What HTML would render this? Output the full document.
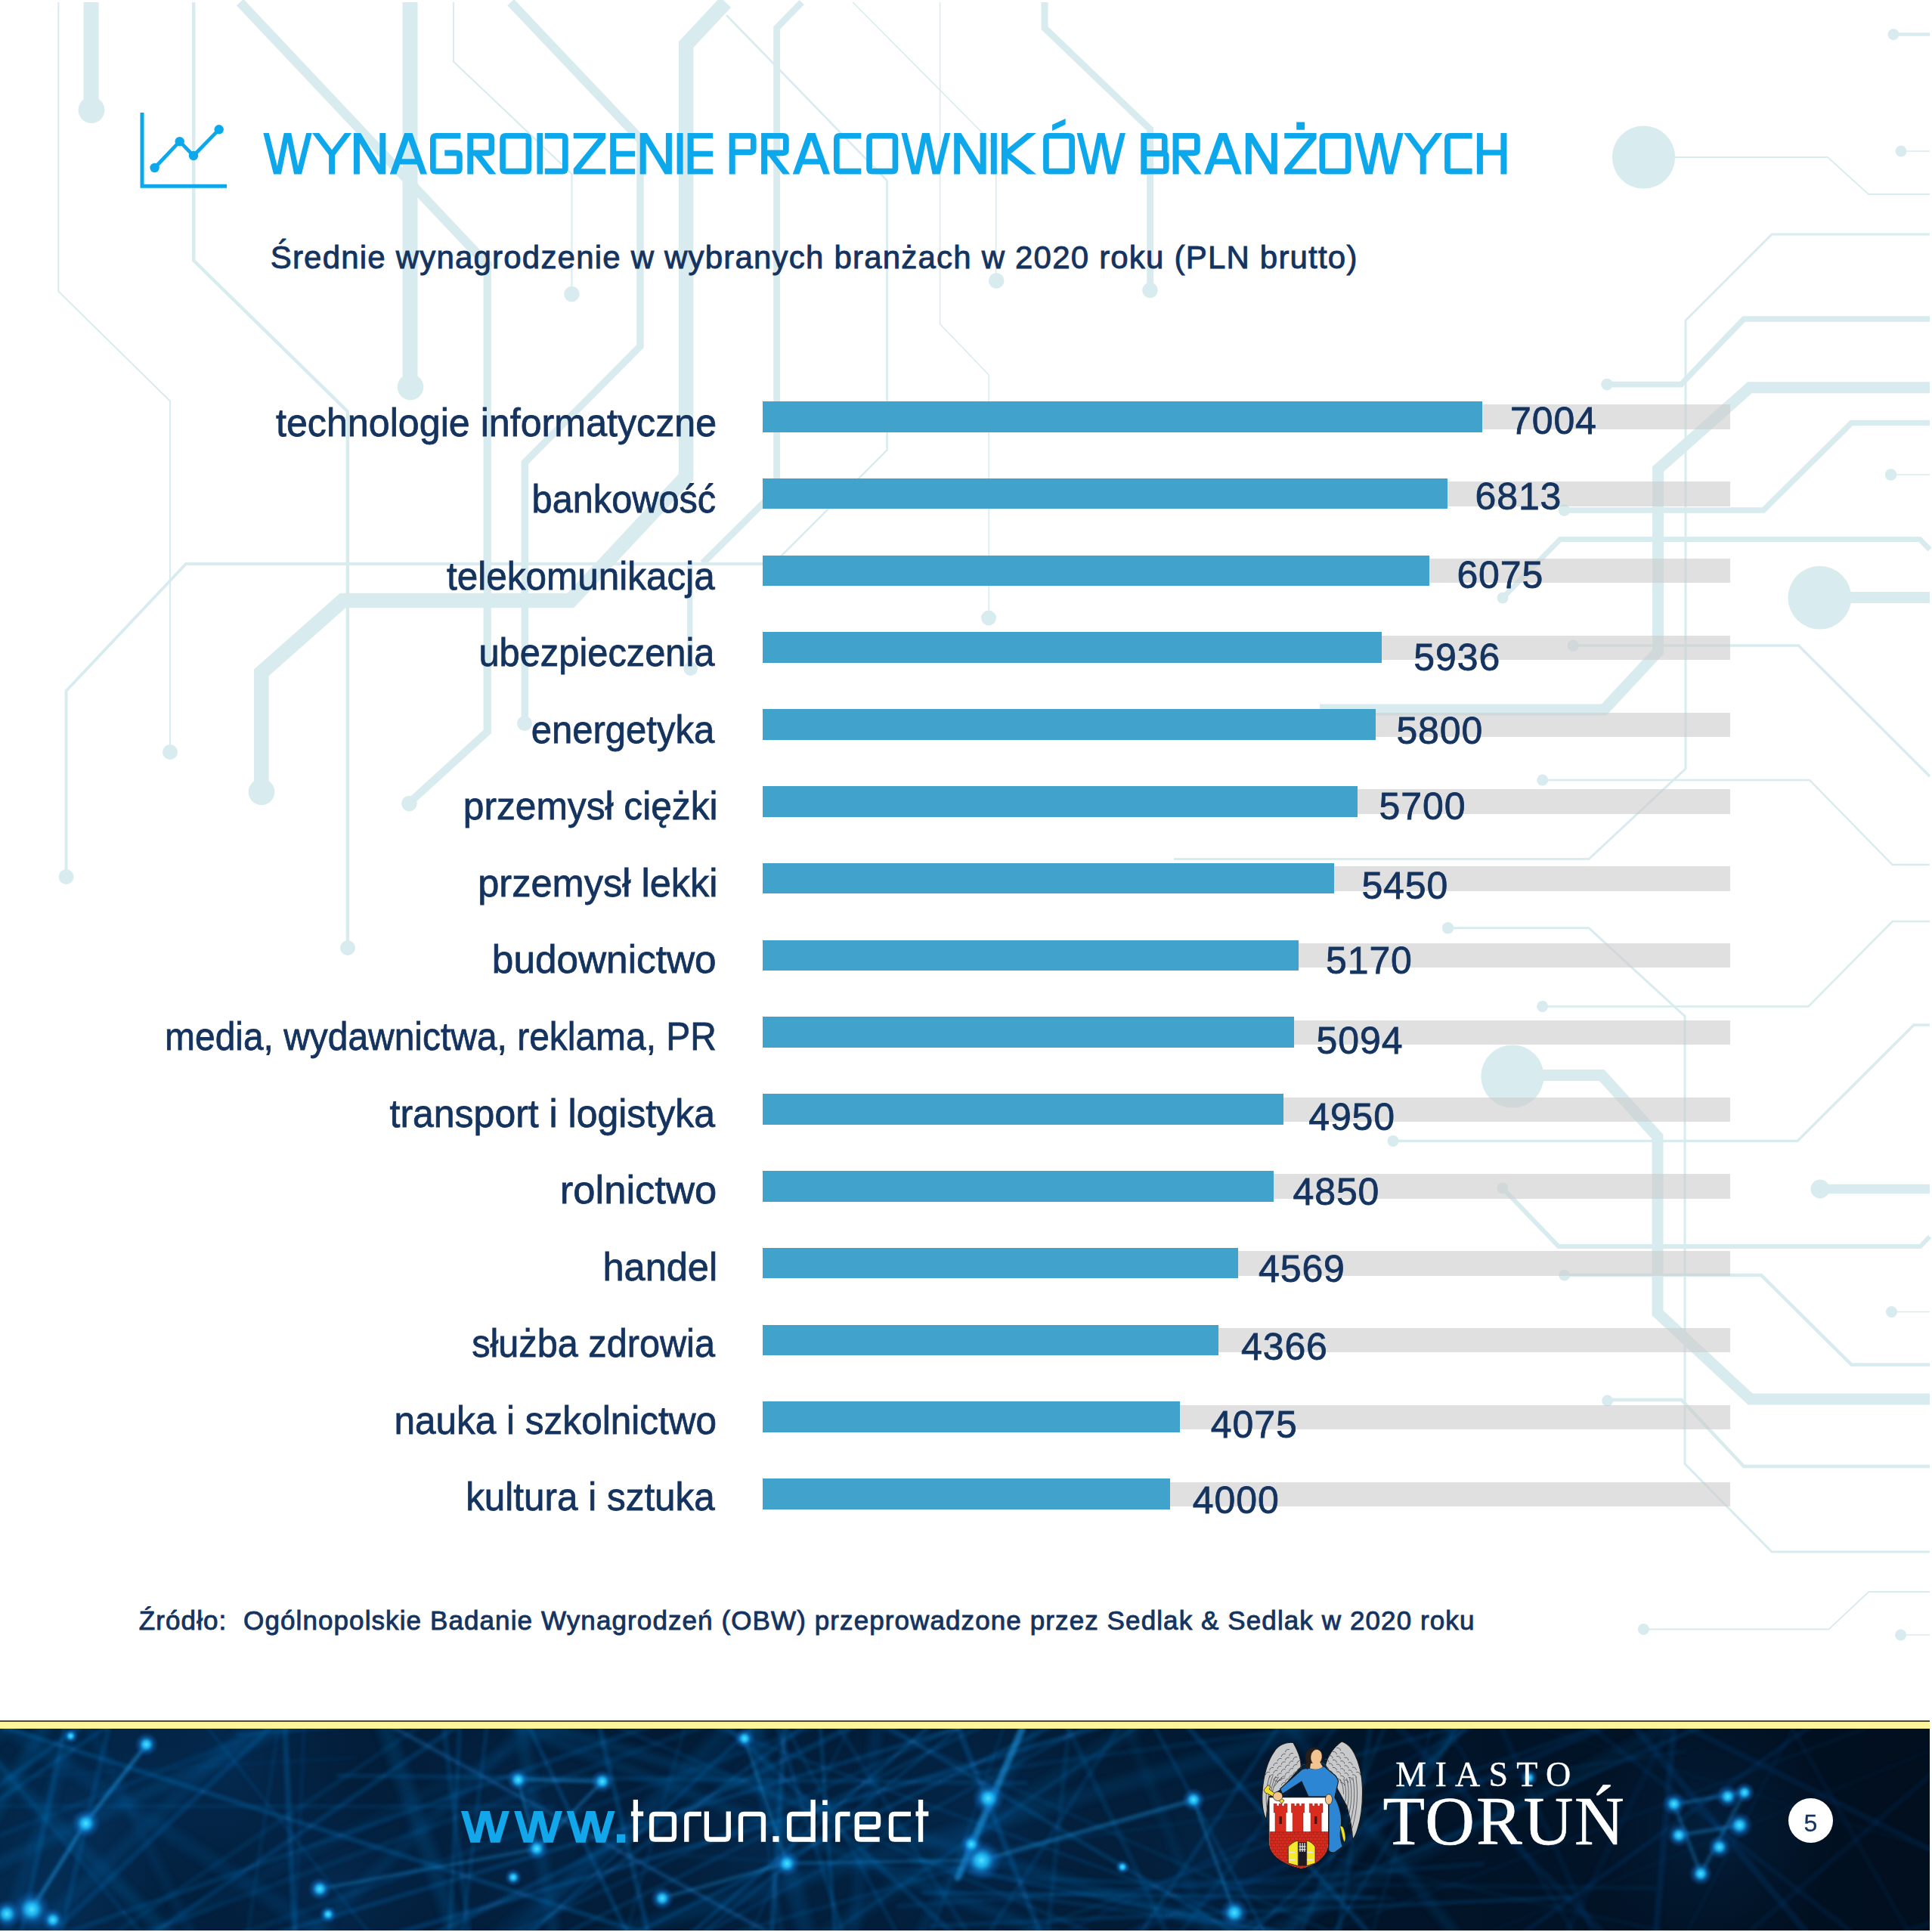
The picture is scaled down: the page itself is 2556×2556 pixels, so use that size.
<!DOCTYPE html>
<html lang="pl"><head><meta charset="utf-8"><title>Wynagrodzenie pracowników branżowych</title>
<style>
html,body{margin:0;padding:0;background:#fff;}
body{width:2556px;height:2556px;position:relative;overflow:hidden;font-family:"Liberation Sans",sans-serif;}
.abs{position:absolute;}
.t{position:absolute;white-space:pre;line-height:1;color:#14335F;}
.s{-webkit-text-stroke:0.8px #14335F;}
.s2{-webkit-text-stroke:0.9px #14335F;}
.lab{font-size:52px;transform-origin:100% 50%;text-align:right;}
.num{font-size:50px;transform-origin:0 50%;}
.bar{position:absolute;left:1009px;height:40.7px;background:#41A2CB;}
.gbar{position:absolute;left:1009px;width:1280px;height:32.5px;background:rgba(205,205,205,0.62);}
svg{position:absolute;left:0;top:0;}
</style></head><body>
<svg width="2556" height="2280" viewBox="0 0 2556 2280" fill="none" stroke="#D8EBEF" stroke-linejoin="miter" stroke-miterlimit="10">
<path d="M77.3,3 V385.4 L225.1,530.7 V989" stroke-width="2"/>
<path d="M120.6,3 V145" stroke-width="20"/>
<path d="M256.2,3 V344.7 L459.9,544.4 V1247" stroke-width="4.4"/>
<path d="M317.5,3 L644.7,350 V352" stroke-width="12.6"/>
<path d="M644.7,345 V968 L542.7,1061" stroke-width="10.3"/>
<path d="M542.5,3 V511" stroke-width="20"/>
<path d="M600,3 V81.5 L756.4,230 V387" stroke-width="2"/>
<path d="M675.6,3 L847,184 V186" stroke-width="12"/>
<path d="M847,180 V458 L694.3,612 V951" stroke-width="9.4"/>
<path d="M960,3 L907.6,59 V631 L754.8,794.5 H453.6 L345.8,890 V1042" stroke-width="19.6"/>
<path d="M1060.7,3 L1027.6,37 V648 L929.7,745" stroke-width="8.8"/>
<path d="M1026,746 H246 L87.6,914 V1154" stroke-width="3.8"/>
<path d="M912.8,746 V880" stroke-width="7.3"/>
<path d="M961,20 L1173.6,239 V595.3 L1024,745" stroke-width="2.6"/>
<path d="M1243.6,3 V428.7 L1308.2,496 V810" stroke-width="1.6"/>
<path d="M1128.3,3 L1317.7,194 V365" stroke-width="1.6"/>
<path d="M1382,3 V37 L1521.7,171 V376" stroke-width="9"/>
<path d="M2216,208 H2418 L2472,257 H2553" stroke-width="1.8"/>
<path d="M2505,45.5 H2553" stroke-width="4.5"/>
<path d="M2515,200 H2553" stroke-width="1.5"/>
<path d="M2553,310 H2344 L2230,424 V1017 L2102,1136.6 H1553" stroke-width="3"/>
<path d="M2126,508.6 H2224 L2307,422 H2553" stroke-width="7.6"/>
<path d="M2553,512.8 H2314.8 L2193.6,620.7 V862 L2122,939 H1746" stroke-width="15"/>
<path d="M2553,559.6 H2449.4 L2333,675 H2069.5" stroke-width="7.5"/>
<path d="M2553,727 L2540,713.5 H2064 L1988,791" stroke-width="7"/>
<path d="M2440,790.4 H2553" stroke-width="15"/>
<path d="M2501.6,628 H2553" stroke-width="1.5"/>
<path d="M2081.4,854 H2379.5 L2553,1027" stroke-width="3.4"/>
<path d="M2040.7,1032 H2394 L2503.6,1144 H2553" stroke-width="2.5"/>
<path d="M1915.5,1227.7 H2102 L2229,1344.5 V1936.6 L2344,2053 H2553" stroke-width="3"/>
<path d="M2040.7,1331.4 H2392.6 L2503.6,1219 H2553" stroke-width="2.5"/>
<path d="M2035,1422.5 H2119 L2193,1504 V1737 L2315.7,1851 H2553" stroke-width="15"/>
<path d="M1843,1509.6 H2378 L2532,1356 H2553" stroke-width="3.5"/>
<path d="M2408,1573 H2553" stroke-width="12.5"/>
<path d="M1988,1572 L2062,1649 H2540.6 L2553,1636" stroke-width="6"/>
<path d="M2069.7,1687 H2330 L2449.5,1805.6 H2553" stroke-width="4.5"/>
<path d="M2502.5,1735.6 H2553" stroke-width="1.5"/>
<path d="M2126.7,1852 H2224.6 L2307,1940 H2553" stroke-width="4.5"/>
<path d="M2174.4,2155.5 H2419.5 L2472.2,2106 H2553" stroke-width="1.8"/>
<path d="M2514.6,2163 H2553" stroke-width="1.5"/>
<g fill="#D8EBEF" stroke="none">
<circle cx="225" cy="995" r="10"/>
<circle cx="121" cy="145.6" r="17.4"/>
<circle cx="460" cy="1254" r="10"/>
<circle cx="541.4" cy="1063" r="10.3"/>
<circle cx="543" cy="512" r="17.3"/>
<circle cx="756.4" cy="389" r="10.3"/>
<circle cx="694" cy="957" r="10"/>
<circle cx="346" cy="1047.7" r="17.4"/>
<circle cx="87.6" cy="1160" r="10"/>
<circle cx="913.7" cy="884.7" r="9.3"/>
<circle cx="1308" cy="817.5" r="10"/>
<circle cx="1318.2" cy="371.4" r="10.3"/>
<circle cx="1521.5" cy="384" r="10.3"/>
<circle cx="2174.5" cy="208" r="41.6"/>
<circle cx="2505" cy="45.5" r="7.5"/>
<circle cx="2515" cy="200" r="7.5"/>
<circle cx="2126" cy="508.6" r="7.8"/>
<circle cx="2069.5" cy="675" r="7.8"/>
<circle cx="1988" cy="791" r="7.5"/>
<circle cx="2407.4" cy="790.7" r="41.9"/>
<circle cx="2501.6" cy="628" r="7.8"/>
<circle cx="2081.4" cy="854" r="7.8"/>
<circle cx="2040.7" cy="1032" r="7.5"/>
<circle cx="1915.5" cy="1227.7" r="7.7"/>
<circle cx="2040.7" cy="1331.4" r="7.5"/>
<circle cx="2000.9" cy="1424" r="41.6"/>
<circle cx="1843" cy="1509.6" r="7.5"/>
<circle cx="2408" cy="1573" r="12.5"/>
<circle cx="1988" cy="1572" r="7.5"/>
<circle cx="2069.7" cy="1687" r="7.5"/>
<circle cx="2502.5" cy="1735.6" r="7.5"/>
<circle cx="2126.7" cy="1853" r="7.5"/>
<circle cx="2174.4" cy="2155.5" r="7.5"/>
<circle cx="2514.6" cy="2163" r="7.5"/>
</g></svg>
<div class="gbar" style="top:535.3px"></div>
<div class="bar" style="top:531.0px;width:952.0px"></div>
<div class="gbar" style="top:637.1px"></div>
<div class="bar" style="top:632.8px;width:906.0px"></div>
<div class="gbar" style="top:738.9px"></div>
<div class="bar" style="top:734.6px;width:882.0px"></div>
<div class="gbar" style="top:840.7px"></div>
<div class="bar" style="top:836.4px;width:819.0px"></div>
<div class="gbar" style="top:942.5px"></div>
<div class="bar" style="top:938.2px;width:811.0px"></div>
<div class="gbar" style="top:1044.3px"></div>
<div class="bar" style="top:1040.0px;width:787.0px"></div>
<div class="gbar" style="top:1146.1px"></div>
<div class="bar" style="top:1141.8px;width:755.5px"></div>
<div class="gbar" style="top:1247.9px"></div>
<div class="bar" style="top:1243.6px;width:709.2px"></div>
<div class="gbar" style="top:1349.7px"></div>
<div class="bar" style="top:1345.4px;width:703.0px"></div>
<div class="gbar" style="top:1451.5px"></div>
<div class="bar" style="top:1447.2px;width:689.0px"></div>
<div class="gbar" style="top:1553.3px"></div>
<div class="bar" style="top:1549.0px;width:675.6px"></div>
<div class="gbar" style="top:1655.1px"></div>
<div class="bar" style="top:1650.8px;width:628.8px"></div>
<div class="gbar" style="top:1756.9px"></div>
<div class="bar" style="top:1752.6px;width:603.0px"></div>
<div class="gbar" style="top:1858.7px"></div>
<div class="bar" style="top:1854.4px;width:551.8px"></div>
<div class="gbar" style="top:1960.5px"></div>
<div class="bar" style="top:1956.2px;width:539.1px"></div>
<div class="t s lab" style="right:1608.2px;top:532.7px;transform:scaleX(0.9653)">technologie informatyczne</div>
<div class="t s lab" style="right:1609.2px;top:634.2px;transform:scaleX(0.9363)">bankowość</div>
<div class="t s lab" style="right:1610.4px;top:735.7px;transform:scaleX(0.9517)">telekomunikacja</div>
<div class="t s lab" style="right:1610.8px;top:837.3px;transform:scaleX(0.9385)">ubezpieczenia</div>
<div class="t s lab" style="right:1611.0px;top:938.8px;transform:scaleX(0.9430)">energetyka</div>
<div class="t s lab" style="right:1607.0px;top:1040.3px;transform:scaleX(0.9552)">przemysł ciężki</div>
<div class="t s lab" style="right:1606.9px;top:1141.9px;transform:scaleX(0.9716)">przemysł lekki</div>
<div class="t s lab" style="right:1608.7px;top:1243.4px;transform:scaleX(0.9872)">budownictwo</div>
<div class="t s lab" style="right:1608.6px;top:1344.9px;transform:scaleX(0.9216)">media, wydawnictwa, reklama, PR</div>
<div class="t s lab" style="right:1610.3px;top:1446.5px;transform:scaleX(0.9609)">transport i logistyka</div>
<div class="t s lab" style="right:1608.1px;top:1548.0px;transform:scaleX(1.0110)">rolnictwo</div>
<div class="t s lab" style="right:1607.2px;top:1649.5px;transform:scaleX(0.9713)">handel</div>
<div class="t s lab" style="right:1610.3px;top:1751.0px;transform:scaleX(0.9356)">służba zdrowia</div>
<div class="t s lab" style="right:1608.4px;top:1852.6px;transform:scaleX(0.9521)">nauka i szkolnictwo</div>
<div class="t s lab" style="right:1610.5px;top:1954.1px;transform:scaleX(0.9506)">kultura i sztuka</div>
<div class="t s num" style="left:1998.0px;top:531.7px;letter-spacing:0.9px">7004</div>
<div class="t s num" style="left:1951.5px;top:632.2px;letter-spacing:0.9px">6813</div>
<div class="t s num" style="left:1927.4px;top:735.7px;letter-spacing:0.9px">6075</div>
<div class="t s num" style="left:1870.3px;top:844.7px;letter-spacing:0.9px">5936</div>
<div class="t s num" style="left:1847.4px;top:942.0px;letter-spacing:0.9px">5800</div>
<div class="t s num" style="left:1824.6px;top:1042.0px;letter-spacing:0.9px">5700</div>
<div class="t s num" style="left:1801.4px;top:1147.2px;letter-spacing:0.9px">5450</div>
<div class="t s num" style="left:1754.0px;top:1245.5px;letter-spacing:0.9px">5170</div>
<div class="t s num" style="left:1741.6px;top:1351.7px;letter-spacing:0.9px">5094</div>
<div class="t s num" style="left:1731.2px;top:1453.0px;letter-spacing:0.9px">4950</div>
<div class="t s num" style="left:1710.5px;top:1552.1px;letter-spacing:0.9px">4850</div>
<div class="t s num" style="left:1665.0px;top:1653.5px;letter-spacing:0.9px">4569</div>
<div class="t s num" style="left:1642.0px;top:1757.0px;letter-spacing:0.9px">4366</div>
<div class="t s num" style="left:1601.8px;top:1859.7px;letter-spacing:0.9px">4075</div>
<div class="t s num" style="left:1577.8px;top:1959.7px;letter-spacing:0.9px">4000</div>
<svg width="340" height="300" viewBox="0 0 340 300" fill="none" stroke="#0DA8EB"><path d="M188,149 V246.3 H300" stroke-width="5"/><path d="M204.6,222 L237.7,187.2 L256,206 L289.7,171.3" stroke-width="4.8"/><g fill="#0DA8EB" stroke="none"><circle cx="204.6" cy="222" r="6.2"/><circle cx="237.7" cy="187.2" r="6.2"/><circle cx="256" cy="206" r="6.2"/><circle cx="289.7" cy="171.3" r="6.2"/></g></svg>
<div class="t" style="left:350.0px;top:165.1px;font-size:77px;font-weight:bold;color:transparent;transform-origin:0 50%;transform:scaleX(0.8598)">WYNAGRODZENIE PRACOWNIKÓW BRANŻOWYCH</div>
<svg width="2556" height="300" viewBox="0 0 2556 300" fill="none"><clipPath id="tc"><rect x="300" y="175.9" width="1800" height="54.599999999999994"/></clipPath><path fill="#0DA8EB" d="M435.10,203.40 L443.10,203.40 L443.10,230.50 L435.10,230.50 Z M467.90,175.90 L475.90,175.90 L475.90,230.50 L467.90,230.50 Z M502.30,175.90 L510.30,175.90 L510.30,230.50 L502.30,230.50 Z M467.90,175.90 L477.20,175.90 L510.30,230.50 L501.00,230.50 Z M515.70,230.50 L535.15,175.90 L545.55,175.90 L565.00,230.50 L556.30,230.50 L540.35,185.73 L524.40,230.50 Z M528.03,217.50 L530.60,210.30 L550.10,210.30 L552.67,217.50 Z M618.30,175.90 L626.30,175.90 L626.30,230.50 L618.30,230.50 Z M710.40,175.90 L718.20,175.90 L718.20,230.50 L710.40,230.50 Z M758.70,175.90 L801.10,175.90 L801.10,183.20 L758.70,183.20 Z M758.70,223.20 L801.10,223.20 L801.10,230.50 L758.70,230.50 Z M791.30,183.20 L801.10,183.20 L768.50,223.20 L758.70,223.20 Z M807.20,175.90 L815.20,175.90 L815.20,230.50 L807.20,230.50 Z M807.20,175.90 L840.20,175.90 L840.20,183.20 L807.20,183.20 Z M807.20,199.85 L840.20,199.85 L840.20,207.15 L807.20,207.15 Z M807.20,223.20 L840.20,223.20 L840.20,230.50 L807.20,230.50 Z M846.70,175.90 L854.70,175.90 L854.70,230.50 L846.70,230.50 Z M880.90,175.90 L888.90,175.90 L888.90,230.50 L880.90,230.50 Z M846.70,175.90 L856.00,175.90 L888.90,230.50 L879.60,230.50 Z M895.60,175.90 L903.60,175.90 L903.60,230.50 L895.60,230.50 Z M909.60,175.90 L917.60,175.90 L917.60,230.50 L909.60,230.50 Z M909.60,175.90 L943.20,175.90 L943.20,183.20 L909.60,183.20 Z M909.60,199.85 L943.20,199.85 L943.20,207.15 L909.60,207.15 Z M909.60,223.20 L943.20,223.20 L943.20,230.50 L909.60,230.50 Z M964.70,175.90 L972.70,175.90 L972.70,230.50 L964.70,230.50 Z M1007.10,175.90 L1015.10,175.90 L1015.10,230.50 L1007.10,230.50 Z M1048.70,230.50 L1068.15,175.90 L1078.55,175.90 L1098.00,230.50 L1089.30,230.50 L1073.35,185.73 L1057.40,230.50 Z M1061.03,217.50 L1063.60,210.30 L1083.10,210.30 L1085.67,217.50 Z M1262.20,175.90 L1270.20,175.90 L1270.20,230.50 L1262.20,230.50 Z M1296.60,175.90 L1304.60,175.90 L1304.60,230.50 L1296.60,230.50 Z M1262.20,175.90 L1271.50,175.90 L1304.60,230.50 L1295.30,230.50 Z M1310.80,175.90 L1318.80,175.90 L1318.80,230.50 L1310.80,230.50 Z M1324.90,175.90 L1332.90,175.90 L1332.90,230.50 L1324.90,230.50 Z M1392.10,165.10 L1392.10,172.90 L1409.60,164.80 L1409.60,157.00 Z M1509.30,175.90 L1517.30,175.90 L1517.30,230.50 L1509.30,230.50 Z M1551.60,175.90 L1559.60,175.90 L1559.60,230.50 L1551.60,230.50 Z M1593.10,230.50 L1612.75,175.90 L1623.15,175.90 L1642.80,230.50 L1634.10,230.50 L1617.95,185.63 L1601.80,230.50 Z M1605.48,217.50 L1608.07,210.30 L1627.83,210.30 L1630.42,217.50 Z M1647.80,175.90 L1655.80,175.90 L1655.80,230.50 L1647.80,230.50 Z M1681.80,175.90 L1689.80,175.90 L1689.80,230.50 L1681.80,230.50 Z M1647.80,175.90 L1657.10,175.90 L1689.80,230.50 L1680.50,230.50 Z M1699.20,175.90 L1741.60,175.90 L1741.60,183.20 L1699.20,183.20 Z M1699.20,223.20 L1741.60,223.20 L1741.60,230.50 L1699.20,230.50 Z M1731.80,183.20 L1741.60,183.20 L1709.00,223.20 L1699.20,223.20 Z M1715.20,161.50 L1726.10,161.50 L1726.10,171.70 L1715.20,171.70 Z M1878.70,203.40 L1886.70,203.40 L1886.70,230.50 L1878.70,230.50 Z M1953.90,175.90 L1961.90,175.90 L1961.90,230.50 L1953.90,230.50 Z M1985.40,175.90 L1993.40,175.90 L1993.40,230.50 L1985.40,230.50 Z M1953.90,198.15 L1993.40,198.15 L1993.40,205.45 L1953.90,205.45 Z"/><g stroke="#0DA8EB" stroke-linejoin="round"><path d="M609.30,179.75 L576.85,179.75 Q572.85,179.75 572.85,183.75 L572.85,222.65 Q572.85,226.65 576.85,226.65 L603.95,226.65 Q607.95,226.65 607.95,222.65 L607.95,206.30 Q607.95,202.30 603.95,202.30 L588.30,202.30" stroke-width="7.7"/><path d="M622.15,179.75 L646.35,179.75 Q650.35,179.75 650.35,183.75 L650.35,198.30 Q650.35,202.30 646.35,202.30 L622.15,202.30" stroke-width="7.7"/><path d="M665.05,203.20 L665.05,183.75 Q665.05,179.75 669.05,179.75 L695.35,179.75 Q699.35,179.75 699.35,183.75 L699.35,222.65 Q699.35,226.65 695.35,226.65 L669.05,226.65 Q665.05,226.65 665.05,222.65 Z" stroke-width="7.7"/><path d="M720.80,179.75 L743.85,179.75 Q747.85,179.75 747.85,183.75 L747.85,222.65 Q747.85,226.65 743.85,226.65 L720.80,226.65" stroke-width="7.7"/><path d="M968.55,179.75 L992.75,179.75 Q996.75,179.75 996.75,183.75 L996.75,197.30 Q996.75,201.30 992.75,201.30 L968.55,201.30" stroke-width="7.7"/><path d="M1010.95,179.75 L1035.85,179.75 Q1039.85,179.75 1039.85,183.75 L1039.85,198.30 Q1039.85,202.30 1035.85,202.30 L1010.95,202.30" stroke-width="7.7"/><path d="M1139.30,179.75 L1110.85,179.75 Q1106.85,179.75 1106.85,183.75 L1106.85,222.65 Q1106.85,226.65 1110.85,226.65 L1139.30,226.65" stroke-width="7.7"/><path d="M1150.05,203.20 L1150.05,183.75 Q1150.05,179.75 1154.05,179.75 L1180.45,179.75 Q1184.45,179.75 1184.45,183.75 L1184.45,222.65 Q1184.45,226.65 1180.45,226.65 L1154.05,226.65 Q1150.05,226.65 1150.05,222.65 Z" stroke-width="7.7"/><path d="M1383.95,203.20 L1383.95,183.75 Q1383.95,179.75 1387.95,179.75 L1414.15,179.75 Q1418.15,179.75 1418.15,183.75 L1418.15,222.65 Q1418.15,226.65 1414.15,226.65 L1387.95,226.65 Q1383.95,226.65 1383.95,222.65 Z" stroke-width="7.7"/><path d="M1513.15,179.75 L1536.75,179.75 Q1540.75,179.75 1540.75,183.75 L1540.75,199.00 Q1540.75,203.00 1536.75,203.00 L1513.15,203.00" stroke-width="7.7"/><path d="M1513.15,203.00 L1538.75,203.00 Q1542.75,203.00 1542.75,207.00 L1542.75,222.65 Q1542.75,226.65 1538.75,226.65 L1513.15,226.65" stroke-width="7.7"/><path d="M1555.45,179.75 L1579.85,179.75 Q1583.85,179.75 1583.85,183.75 L1583.85,198.30 Q1583.85,202.30 1579.85,202.30 L1555.45,202.30" stroke-width="7.7"/><path d="M1749.35,203.20 L1749.35,183.75 Q1749.35,179.75 1753.35,179.75 L1779.55,179.75 Q1783.55,179.75 1783.55,183.75 L1783.55,222.65 Q1783.55,226.65 1779.55,226.65 L1753.35,226.65 Q1749.35,226.65 1749.35,222.65 Z" stroke-width="7.7"/><path d="M1947.60,179.75 L1918.95,179.75 Q1914.95,179.75 1914.95,183.75 L1914.95,222.65 Q1914.95,226.65 1918.95,226.65 L1947.60,226.65" stroke-width="7.7"/></g><g clip-path="url(#tc)" stroke="#0DA8EB" stroke-linejoin="miter" stroke-miterlimit="6"><path d="M349.96,167.71 L367.10,236.00 L380.50,170.40 L393.90,236.00 L411.03,167.71" stroke-width="7.2"/><path d="M415.30,172.90 L439.10,204.40 L462.90,172.90" stroke-width="7.4"/><path d="M630.80,203.40 L653.30,232.50" stroke-width="7.6"/><path d="M1019.60,203.40 L1042.10,232.50" stroke-width="7.6"/><path d="M1194.06,167.71 L1211.20,236.00 L1224.85,170.40 L1238.50,236.00 L1255.63,167.71" stroke-width="7.2"/><path d="M1368.60,172.90 L1331.40,203.20 L1368.60,233.50" stroke-width="7.8"/><path d="M1426.16,167.71 L1443.30,236.00 L1456.75,170.40 L1470.20,236.00 L1487.34,167.71" stroke-width="7.2"/><path d="M1564.10,203.40 L1586.60,232.50" stroke-width="7.6"/><path d="M1793.87,167.71 L1811.00,236.00 L1824.45,170.40 L1837.90,236.00 L1855.04,167.71" stroke-width="7.2"/><path d="M1859.40,172.90 L1882.70,204.40 L1906.00,172.90" stroke-width="7.4"/></g></svg>
<div class="t s2" style="left:357.7px;top:319.6px;font-size:42px;letter-spacing:1.197px">Średnie wynagrodzenie w wybranych branżach w 2020 roku (PLN brutto)</div>
<div class="t s2" style="left:183.8px;top:2125.9px;font-size:35px;letter-spacing:1.099px">Źródło:  Ogólnopolskie Badanie Wynagrodzeń (OBW) przeprowadzone przez Sedlak &amp; Sedlak w 2020 roku</div>
<div class="abs" style="left:0;top:2276px;width:2553px;height:277.5px;background:#01182f;overflow:hidden">
<div class="abs" style="left:0;top:11px;width:2553px;height:266.5px;background:linear-gradient(90deg,#022443 0%,#021f3c 14%,#021a33 30%,#021d38 48%,#021a32 58%,#01162c 66%,#011428 76%,#011224 88%,#010f1f 100%)"></div>
<svg style="left:0;top:11px" width="2553" height="267" viewBox="0 0 2553 267">
<defs><filter id="b1" x="-5%" y="-50%" width="110%" height="200%"><feGaussianBlur stdDeviation="2.2"/></filter><filter id="b2" x="-5%" y="-50%" width="110%" height="200%"><feGaussianBlur stdDeviation="5"/></filter><radialGradient id="g"><stop offset="0" stop-color="#4fe2ff" stop-opacity="1"/><stop offset="0.3" stop-color="#1cb4f4" stop-opacity="0.95"/><stop offset="0.6" stop-color="#127ad0" stop-opacity="0.45"/><stop offset="1" stop-color="#0a50b0" stop-opacity="0"/></radialGradient><radialGradient id="gl"><stop offset="0" stop-color="#0f66bd" stop-opacity="0.5"/><stop offset="1" stop-color="#0a4a90" stop-opacity="0"/></radialGradient></defs>
<circle cx="60" cy="233" r="160" fill="url(#gl)" opacity="0.3"/>
<circle cx="120" cy="113" r="150" fill="url(#gl)" opacity="0.3"/>
<circle cx="300" cy="43" r="180" fill="url(#gl)" opacity="0.3"/>
<circle cx="700" cy="133" r="220" fill="url(#gl)" opacity="0.3"/>
<circle cx="1000" cy="153" r="200" fill="url(#gl)" opacity="0.3"/>
<circle cx="1300" cy="133" r="230" fill="url(#gl)" opacity="0.3"/>
<circle cx="1600" cy="163" r="200" fill="url(#gl)" opacity="0.3"/>
<circle cx="2260" cy="133" r="170" fill="url(#gl)" opacity="0.3"/>
<circle cx="450" cy="213" r="150" fill="url(#gl)" opacity="0.3"/>
<g filter="url(#b1)" stroke-linecap="round">
<line x1="580" y1="-20" x2="123" y2="290" stroke="#1276c2" stroke-width="6.2" opacity="0.14"/>
<line x1="1124" y1="-20" x2="1806" y2="290" stroke="#1276c2" stroke-width="4.5" opacity="0.14"/>
<line x1="90" y1="-20" x2="24" y2="290" stroke="#1276c2" stroke-width="6.8" opacity="0.26"/>
<line x1="1124" y1="-20" x2="268" y2="290" stroke="#1276c2" stroke-width="6.9" opacity="0.13"/>
<line x1="1703" y1="-20" x2="1496" y2="290" stroke="#1276c2" stroke-width="5.1" opacity="0.24"/>
<line x1="1332" y1="-20" x2="710" y2="290" stroke="#1276c2" stroke-width="4.2" opacity="0.24"/>
<line x1="32" y1="290" x2="906" y2="-20" stroke="#1276c2" stroke-width="6.0" opacity="0.22"/>
<line x1="1839" y1="-20" x2="1713" y2="290" stroke="#1276c2" stroke-width="5.6" opacity="0.14"/>
<line x1="1106" y1="290" x2="1084" y2="-20" stroke="#1276c2" stroke-width="3.8" opacity="0.34"/>
<line x1="148" y1="-20" x2="76" y2="290" stroke="#1276c2" stroke-width="6.7" opacity="0.21"/>
<line x1="1920" y1="290" x2="2672" y2="-20" stroke="#1276c2" stroke-width="4.0" opacity="0.05"/>
<line x1="943" y1="-20" x2="1281" y2="290" stroke="#1276c2" stroke-width="6.8" opacity="0.22"/>
<line x1="1295" y1="290" x2="2160" y2="-20" stroke="#1276c2" stroke-width="3.8" opacity="0.18"/>
<line x1="1304" y1="-20" x2="635" y2="290" stroke="#1276c2" stroke-width="4.7" opacity="0.17"/>
<line x1="504" y1="290" x2="260" y2="-20" stroke="#1276c2" stroke-width="2.9" opacity="0.22"/>
<line x1="1054" y1="290" x2="487" y2="-20" stroke="#1276c2" stroke-width="5.7" opacity="0.34"/>
<line x1="1334" y1="-20" x2="1226" y2="290" stroke="#1276c2" stroke-width="3.3" opacity="0.17"/>
<line x1="390" y1="290" x2="403" y2="-20" stroke="#1276c2" stroke-width="3.8" opacity="0.15"/>
<line x1="1023" y1="-20" x2="1121" y2="290" stroke="#1276c2" stroke-width="5.6" opacity="0.23"/>
<line x1="1197" y1="290" x2="1031" y2="-20" stroke="#1276c2" stroke-width="4.3" opacity="0.21"/>
<line x1="911" y1="-20" x2="823" y2="290" stroke="#1276c2" stroke-width="4.5" opacity="0.14"/>
<line x1="1162" y1="-20" x2="537" y2="290" stroke="#1276c2" stroke-width="6.8" opacity="0.26"/>
<line x1="48" y1="290" x2="377" y2="-20" stroke="#1276c2" stroke-width="6.8" opacity="0.25"/>
<line x1="896" y1="290" x2="1468" y2="-20" stroke="#1276c2" stroke-width="4.7" opacity="0.19"/>
<line x1="203" y1="290" x2="-57" y2="-20" stroke="#1276c2" stroke-width="6.2" opacity="0.16"/>
<line x1="-51" y1="-20" x2="912" y2="290" stroke="#1276c2" stroke-width="5.6" opacity="0.32"/>
<line x1="1492" y1="-20" x2="1296" y2="290" stroke="#1276c2" stroke-width="5.6" opacity="0.18"/>
<line x1="670" y1="290" x2="1086" y2="-20" stroke="#1276c2" stroke-width="5.4" opacity="0.25"/>
<line x1="1556" y1="-20" x2="1828" y2="290" stroke="#1276c2" stroke-width="6.2" opacity="0.27"/>
<line x1="376" y1="-20" x2="391" y2="290" stroke="#1276c2" stroke-width="7.0" opacity="0.29"/>
<line x1="892" y1="290" x2="1249" y2="-20" stroke="#1276c2" stroke-width="4.5" opacity="0.33"/>
<line x1="1975" y1="-20" x2="2976" y2="290" stroke="#1276c2" stroke-width="3.0" opacity="0.06"/>
<line x1="609" y1="-20" x2="594" y2="290" stroke="#1276c2" stroke-width="4.7" opacity="0.26"/>
<line x1="1579" y1="290" x2="2290" y2="-20" stroke="#1276c2" stroke-width="6.0" opacity="0.17"/>
<line x1="904" y1="290" x2="1293" y2="-20" stroke="#1276c2" stroke-width="2.9" opacity="0.33"/>
<line x1="1416" y1="-20" x2="1384" y2="290" stroke="#1276c2" stroke-width="5.8" opacity="0.16"/>
<line x1="167" y1="-20" x2="-290" y2="290" stroke="#1276c2" stroke-width="5.3" opacity="0.25"/>
<line x1="896" y1="-20" x2="1748" y2="290" stroke="#1276c2" stroke-width="2.6" opacity="0.30"/>
<line x1="1425" y1="-20" x2="802" y2="290" stroke="#1276c2" stroke-width="4.5" opacity="0.31"/>
<line x1="1635" y1="290" x2="1959" y2="-20" stroke="#1276c2" stroke-width="4.8" opacity="0.23"/>
<line x1="585" y1="-20" x2="623" y2="290" stroke="#1276c2" stroke-width="6.6" opacity="0.20"/>
<line x1="862" y1="290" x2="789" y2="-20" stroke="#1276c2" stroke-width="6.2" opacity="0.31"/>
<line x1="175" y1="290" x2="629" y2="-20" stroke="#1276c2" stroke-width="6.0" opacity="0.25"/>
<line x1="1530" y1="-20" x2="1070" y2="290" stroke="#1276c2" stroke-width="5.0" opacity="0.19"/>
<line x1="989" y1="-20" x2="1037" y2="290" stroke="#1276c2" stroke-width="6.5" opacity="0.13"/>
<line x1="302" y1="290" x2="1332" y2="-20" stroke="#1276c2" stroke-width="5.0" opacity="0.29"/>
<line x1="1816" y1="-20" x2="1767" y2="290" stroke="#1276c2" stroke-width="5.6" opacity="0.18"/>
<line x1="1020" y1="290" x2="1039" y2="-20" stroke="#1276c2" stroke-width="6.7" opacity="0.32"/>
<line x1="325" y1="290" x2="371" y2="-20" stroke="#1276c2" stroke-width="4.5" opacity="0.14"/>
<line x1="405" y1="-20" x2="-374" y2="290" stroke="#1276c2" stroke-width="6.5" opacity="0.15"/>
<line x1="1404" y1="-20" x2="1553" y2="290" stroke="#1276c2" stroke-width="6.9" opacity="0.17"/>
<line x1="1900" y1="-20" x2="1810" y2="290" stroke="#1276c2" stroke-width="3.2" opacity="0.15"/>
<line x1="983" y1="290" x2="1132" y2="-20" stroke="#1276c2" stroke-width="2.9" opacity="0.20"/>
<line x1="610" y1="290" x2="646" y2="-20" stroke="#1276c2" stroke-width="4.0" opacity="0.26"/>
<line x1="976" y1="-20" x2="137" y2="290" stroke="#1276c2" stroke-width="6.9" opacity="0.14"/>
<line x1="458" y1="290" x2="1515" y2="-20" stroke="#1276c2" stroke-width="5.9" opacity="0.30"/>
<line x1="1684" y1="290" x2="1518" y2="-20" stroke="#1276c2" stroke-width="3.2" opacity="0.32"/>
<line x1="1098" y1="-20" x2="1292" y2="290" stroke="#1276c2" stroke-width="6.1" opacity="0.16"/>
<line x1="1780" y1="-20" x2="1547" y2="290" stroke="#1276c2" stroke-width="6.1" opacity="0.14"/>
<line x1="1698" y1="290" x2="2520" y2="-20" stroke="#1276c2" stroke-width="2.6" opacity="0.12"/>
<line x1="777" y1="-20" x2="1489" y2="290" stroke="#1276c2" stroke-width="4.9" opacity="0.17"/>
<line x1="130" y1="-20" x2="-299" y2="290" stroke="#1276c2" stroke-width="6.7" opacity="0.26"/>
<line x1="1015" y1="-20" x2="682" y2="290" stroke="#1276c2" stroke-width="3.7" opacity="0.30"/>
<line x1="1988" y1="-20" x2="901" y2="290" stroke="#1276c2" stroke-width="4.8" opacity="0.17"/>
<line x1="839" y1="290" x2="692" y2="-20" stroke="#1276c2" stroke-width="5.0" opacity="0.32"/>
<line x1="1938" y1="-20" x2="1753" y2="290" stroke="#1276c2" stroke-width="4.0" opacity="0.22"/>
<line x1="1384" y1="290" x2="1260" y2="-20" stroke="#1276c2" stroke-width="6.9" opacity="0.30"/>
<line x1="-70" y1="290" x2="-183" y2="-20" stroke="#1276c2" stroke-width="3.2" opacity="0.14"/>
<line x1="1667" y1="290" x2="1145" y2="-20" stroke="#1276c2" stroke-width="5.2" opacity="0.27"/>
<line x1="-5" y1="-20" x2="-379" y2="290" stroke="#1276c2" stroke-width="3.7" opacity="0.33"/>
<line x1="1651" y1="146" x2="2322" y2="295" stroke="#1276c2" stroke-width="3.6" opacity="0.10"/>
<line x1="-98" y1="102" x2="734" y2="103" stroke="#1276c2" stroke-width="3.2" opacity="0.21"/>
<line x1="-91" y1="71" x2="472" y2="38" stroke="#1276c2" stroke-width="2.6" opacity="0.12"/>
<line x1="448" y1="62" x2="1358" y2="72" stroke="#1276c2" stroke-width="5.1" opacity="0.24"/>
<line x1="1189" y1="235" x2="1961" y2="179" stroke="#1276c2" stroke-width="5.9" opacity="0.15"/>
<line x1="1203" y1="172" x2="1734" y2="279" stroke="#1276c2" stroke-width="5.6" opacity="0.23"/>
<line x1="1221" y1="217" x2="1818" y2="224" stroke="#1276c2" stroke-width="4.3" opacity="0.27"/>
<line x1="1348" y1="221" x2="2257" y2="346" stroke="#1276c2" stroke-width="4.9" opacity="0.19"/>
<line x1="314" y1="8" x2="907" y2="-36" stroke="#1276c2" stroke-width="2.9" opacity="0.27"/>
<line x1="905" y1="168" x2="1844" y2="225" stroke="#1276c2" stroke-width="4.2" opacity="0.12"/>
<line x1="1336" y1="200" x2="2188" y2="211" stroke="#1276c2" stroke-width="4.8" opacity="0.11"/>
<line x1="1226" y1="67" x2="1778" y2="-8" stroke="#1276c2" stroke-width="5.1" opacity="0.16"/>
<line x1="1232" y1="261" x2="2077" y2="223" stroke="#1276c2" stroke-width="4.2" opacity="0.24"/>
<line x1="1281" y1="165" x2="2230" y2="30" stroke="#1276c2" stroke-width="3.0" opacity="0.14"/>
<line x1="2382" y1="-20" x2="2221" y2="290" stroke="#1560b8" stroke-width="4.1" opacity="0.09"/>
<line x1="1978" y1="-20" x2="2117" y2="290" stroke="#1560b8" stroke-width="7.4" opacity="0.11"/>
<line x1="2189" y1="290" x2="2216" y2="-20" stroke="#1560b8" stroke-width="7.8" opacity="0.18"/>
<line x1="2217" y1="-20" x2="2063" y2="290" stroke="#1560b8" stroke-width="8.7" opacity="0.08"/>
<line x1="2140" y1="290" x2="1832" y2="-20" stroke="#1560b8" stroke-width="9.0" opacity="0.12"/>
<line x1="2529" y1="-20" x2="3072" y2="290" stroke="#1560b8" stroke-width="6.9" opacity="0.09"/>
<line x1="2195" y1="-20" x2="2814" y2="290" stroke="#1560b8" stroke-width="7.0" opacity="0.14"/>
<line x1="1988" y1="290" x2="2418" y2="-20" stroke="#1560b8" stroke-width="5.2" opacity="0.17"/>
<line x1="2163" y1="-20" x2="1449" y2="290" stroke="#1560b8" stroke-width="8.7" opacity="0.15"/>
<line x1="2095" y1="290" x2="1902" y2="-20" stroke="#1560b8" stroke-width="5.7" opacity="0.11"/>
<line x1="2464" y1="290" x2="3305" y2="-20" stroke="#1560b8" stroke-width="8.2" opacity="0.09"/>
<line x1="2537" y1="290" x2="2360" y2="-20" stroke="#1560b8" stroke-width="5.3" opacity="0.09"/>
<line x1="2082" y1="-20" x2="2476" y2="290" stroke="#1560b8" stroke-width="5.8" opacity="0.12"/>
<line x1="1984" y1="-20" x2="1369" y2="290" stroke="#1560b8" stroke-width="4.3" opacity="0.15"/>
<line x1="2290" y1="290" x2="2648" y2="-20" stroke="#1560b8" stroke-width="6.2" opacity="0.11"/>
<line x1="2407" y1="290" x2="2148" y2="-20" stroke="#1560b8" stroke-width="8.4" opacity="0.16"/>
</g>
<g filter="url(#b2)" stroke-linecap="round">
<line x1="737" y1="300" x2="685" y2="-30" stroke="#0f6db4" stroke-width="15.4" opacity="0.20"/>
<line x1="251" y1="300" x2="-85" y2="-30" stroke="#0f6db4" stroke-width="17.6" opacity="0.20"/>
<line x1="74" y1="-30" x2="-112" y2="300" stroke="#0f6db4" stroke-width="16.5" opacity="0.21"/>
<line x1="1074" y1="300" x2="990" y2="-30" stroke="#0f6db4" stroke-width="21.6" opacity="0.18"/>
<line x1="1039" y1="-30" x2="626" y2="300" stroke="#0f6db4" stroke-width="20.0" opacity="0.11"/>
<line x1="-34" y1="-30" x2="473" y2="300" stroke="#0f6db4" stroke-width="19.3" opacity="0.14"/>
<line x1="993" y1="-30" x2="655" y2="300" stroke="#0f6db4" stroke-width="17.7" opacity="0.16"/>
<line x1="1126" y1="300" x2="1163" y2="-30" stroke="#0f6db4" stroke-width="14.9" opacity="0.17"/>
<line x1="1624" y1="300" x2="2258" y2="-30" stroke="#0f6db4" stroke-width="13.8" opacity="0.13"/>
<line x1="435" y1="-30" x2="-256" y2="300" stroke="#0f6db4" stroke-width="14.8" opacity="0.20"/>
<line x1="615" y1="-30" x2="1462" y2="300" stroke="#0f6db4" stroke-width="12.6" opacity="0.21"/>
<line x1="-3" y1="300" x2="108" y2="-30" stroke="#0f6db4" stroke-width="15.0" opacity="0.17"/>
<line x1="267" y1="300" x2="105" y2="-30" stroke="#0f6db4" stroke-width="11.0" opacity="0.14"/>
<line x1="1684" y1="-30" x2="1948" y2="300" stroke="#0f6db4" stroke-width="11.6" opacity="0.18"/>
<line x1="-80" y1="300" x2="-49" y2="-30" stroke="#0f6db4" stroke-width="12.1" opacity="0.17"/>
<line x1="728" y1="-30" x2="381" y2="300" stroke="#0f6db4" stroke-width="15.0" opacity="0.15"/>
<line x1="630" y1="-30" x2="1745" y2="300" stroke="#0f6db4" stroke-width="13.2" opacity="0.22"/>
<line x1="1386" y1="-30" x2="1201" y2="300" stroke="#0f6db4" stroke-width="12.5" opacity="0.15"/>
<line x1="1481" y1="-30" x2="1609" y2="300" stroke="#0f6db4" stroke-width="10.5" opacity="0.12"/>
<line x1="717" y1="300" x2="1835" y2="-30" stroke="#0f6db4" stroke-width="20.0" opacity="0.15"/>
<line x1="37" y1="-30" x2="-278" y2="300" stroke="#0f6db4" stroke-width="10.2" opacity="0.14"/>
<line x1="1051" y1="300" x2="1539" y2="-30" stroke="#0f6db4" stroke-width="20.0" opacity="0.12"/>
<line x1="614" y1="300" x2="500" y2="-30" stroke="#0f6db4" stroke-width="20.9" opacity="0.20"/>
<line x1="362" y1="-30" x2="13" y2="300" stroke="#0f6db4" stroke-width="18.2" opacity="0.15"/>
<line x1="793" y1="-30" x2="139" y2="300" stroke="#0f6db4" stroke-width="11.2" opacity="0.10"/>
<line x1="1681" y1="300" x2="1950" y2="-30" stroke="#0f6db4" stroke-width="13.1" opacity="0.20"/>
</g>
<g filter="url(#b1)" stroke-linecap="round">
<line x1="1267" y1="197" x2="1352" y2="1" stroke="#22a2f0" stroke-width="9" opacity="0.55"/>
<line x1="1298" y1="174" x2="1579" y2="94" stroke="#22a2f0" stroke-width="4" opacity="0.4"/>
<line x1="113" y1="125" x2="194" y2="21" stroke="#22a2f0" stroke-width="5" opacity="0.5"/>
<line x1="42" y1="239" x2="113" y2="125" stroke="#22a2f0" stroke-width="5" opacity="0.5"/>
<line x1="685" y1="67" x2="797" y2="70" stroke="#22a2f0" stroke-width="4" opacity="0.45"/>
<line x1="710" y1="159" x2="797" y2="70" stroke="#22a2f0" stroke-width="4" opacity="0.4"/>
<line x1="710" y1="159" x2="685" y2="67" stroke="#22a2f0" stroke-width="4" opacity="0.35"/>
<line x1="423" y1="212" x2="710" y2="159" stroke="#22a2f0" stroke-width="4" opacity="0.35"/>
<line x1="876" y1="224" x2="1041" y2="178" stroke="#22a2f0" stroke-width="4" opacity="0.35"/>
<line x1="1041" y1="178" x2="1298" y2="174" stroke="#22a2f0" stroke-width="4" opacity="0.3"/>
<line x1="1579" y1="94" x2="1633" y2="243" stroke="#22a2f0" stroke-width="4" opacity="0.35"/>
<line x1="985" y1="13" x2="1041" y2="178" stroke="#22a2f0" stroke-width="4" opacity="0.3"/>
<line x1="2215" y1="100" x2="2308" y2="84" stroke="#22a2f0" stroke-width="5" opacity="0.35"/>
<line x1="2221" y1="141" x2="2301" y2="128" stroke="#22a2f0" stroke-width="5" opacity="0.35"/>
<line x1="2250" y1="192" x2="2308" y2="84" stroke="#22a2f0" stroke-width="5" opacity="0.3"/>
<line x1="2215" y1="100" x2="2250" y2="192" stroke="#22a2f0" stroke-width="5" opacity="0.3"/>
</g>
<circle cx="93.5" cy="9.7" r="10.0" fill="url(#g)"/>
<circle cx="193.6" cy="20.8" r="16.0" fill="url(#g)"/>
<circle cx="113.5" cy="125.4" r="20.0" fill="url(#g)"/>
<circle cx="42" cy="239.0" r="26.0" fill="url(#g)"/>
<circle cx="9" cy="245.0" r="20.0" fill="url(#g)"/>
<circle cx="70" cy="253.0" r="16.0" fill="url(#g)"/>
<circle cx="423" cy="212.0" r="16.0" fill="url(#g)"/>
<circle cx="434" cy="245.6" r="12.0" fill="url(#g)"/>
<circle cx="685.5" cy="67.6" r="16.0" fill="url(#g)"/>
<circle cx="796.8" cy="69.8" r="16.0" fill="url(#g)"/>
<circle cx="710" cy="158.8" r="16.0" fill="url(#g)"/>
<circle cx="679" cy="196.7" r="12.0" fill="url(#g)"/>
<circle cx="876" cy="224.5" r="16.0" fill="url(#g)"/>
<circle cx="1041" cy="178.5" r="18.0" fill="url(#g)"/>
<circle cx="985" cy="13.0" r="14.0" fill="url(#g)"/>
<circle cx="1307.4" cy="92.0" r="22.0" fill="url(#g)"/>
<circle cx="1298.5" cy="174.4" r="28.0" fill="url(#g)"/>
<circle cx="1285" cy="153.0" r="16.0" fill="url(#g)"/>
<circle cx="1579" cy="94.0" r="16.0" fill="url(#g)"/>
<circle cx="1633" cy="243.5" r="20.0" fill="url(#g)"/>
<circle cx="1485" cy="183.0" r="10.0" fill="url(#g)"/>
<circle cx="2214.6" cy="99.6" r="16.0" fill="url(#g)"/>
<circle cx="2285.8" cy="89.8" r="16.0" fill="url(#g)"/>
<circle cx="2308" cy="84.5" r="14.0" fill="url(#g)"/>
<circle cx="2221" cy="141.0" r="16.0" fill="url(#g)"/>
<circle cx="2301.4" cy="127.7" r="18.0" fill="url(#g)"/>
<circle cx="2274.7" cy="156.6" r="16.0" fill="url(#g)"/>
<circle cx="2250" cy="192.0" r="16.0" fill="url(#g)"/>
<circle cx="2023" cy="65.0" r="12.0" fill="url(#g)"/>
</svg>
<div class="abs" style="left:0;top:0;width:2553px;height:1.6px;background:#4a4a48"></div>
<div class="abs" style="left:0;top:1.6px;width:2553px;height:9.2px;background:#FDF49B"></div>
</div>
<div class="t" style="left:611.8px;top:2377.6px;font-size:69px;color:transparent;transform-origin:0 50%;transform:scaleX(1.1752)">www.torun.direct</div>
<svg width="2556" height="2556" viewBox="0 0 2556 2556" fill="none"><g stroke="#fff" stroke-width="6.3" stroke-linejoin="round"><path d="M840.90,2380.90 L840.90,2436.80"/><path d="M834.90,2399.60 L851.20,2399.60"/><path d="M862.05,2416.70 L862.05,2404.40 Q862.05,2399.90 866.55,2399.90 L887.45,2399.90 Q891.95,2399.90 891.95,2404.40 L891.95,2429.00 Q891.95,2433.50 887.45,2433.50 L866.55,2433.50 Q862.05,2433.50 862.05,2429.00 Z"/><path d="M908.30,2436.80 L908.30,2404.40 Q908.30,2399.90 912.80,2399.90 L927.80,2399.90"/><path d="M934.85,2396.60 L934.85,2429.00 Q934.85,2433.50 939.35,2433.50 L959.25,2433.50 Q963.75,2433.50 963.75,2429.00 L963.75,2396.60"/><path d="M979.95,2436.80 L979.95,2404.40 Q979.95,2399.90 984.45,2399.90 L1005.45,2399.90 Q1009.95,2399.90 1009.95,2404.40 L1009.95,2436.80"/><path d="M1075.65,2399.90 L1048.65,2399.90 Q1044.15,2399.90 1044.15,2404.40 L1044.15,2429.00 Q1044.15,2433.50 1048.65,2433.50 L1075.65,2433.50"/><path d="M1075.65,2380.90 L1075.65,2436.80"/><path d="M1091.45,2396.60 L1091.45,2436.80"/><path d="M1108.25,2436.80 L1108.25,2404.40 Q1108.25,2399.90 1112.75,2399.90 L1124.60,2399.90"/><path d="M1163.70,2433.50 L1138.25,2433.50 Q1133.75,2433.50 1133.75,2429.00 L1133.75,2404.40 Q1133.75,2399.90 1138.25,2399.90 L1157.55,2399.90 Q1162.05,2399.90 1162.05,2404.40 L1162.05,2412.50 Q1162.05,2417.00 1157.55,2417.00 L1133.75,2417.00"/><path d="M1205.00,2399.90 L1183.45,2399.90 Q1178.95,2399.90 1178.95,2404.40 L1178.95,2429.00 Q1178.95,2433.50 1183.45,2433.50 L1205.00,2433.50"/><path d="M1218.05,2380.90 L1218.05,2436.80"/><path d="M1211.50,2399.60 L1228.40,2399.60"/></g><g fill="#fff"><rect x="1022.4" y="2429.2" width="8.1" height="7.6"/><rect x="1088.2" y="2381.4" width="6.5" height="6.6"/></g><clipPath id="wc"><rect x="600" y="2396.1" width="240" height="41.70000000000027"/></clipPath><g clip-path="url(#wc)" stroke="#12A7EA" stroke-width="8.8" stroke-linejoin="miter" stroke-miterlimit="3"><path d="M612.12,2387.76 L628.80,2443.80 L641.90,2390.10 L655.00,2443.80 L671.68,2387.76"/><path d="M682.32,2387.76 L699.00,2443.80 L712.10,2390.10 L725.20,2443.80 L741.88,2387.76"/><path d="M751.82,2387.76 L768.50,2443.80 L781.60,2390.10 L794.70,2443.80 L811.38,2387.76"/></g><rect x="816" y="2426.6" width="11.3" height="11.2" fill="#12A7EA"/></svg>
<div class="t" style="font-family:'Liberation Serif',serif;left:1846.3px;top:2325.3px;font-size:46px;color:#fff;-webkit-text-stroke:0.35px #fff;letter-spacing:11.26px">MIASTO</div>
<div class="t" style="font-family:'Liberation Serif',serif;left:1829.5px;top:2364.1px;font-size:91px;color:#fff;-webkit-text-stroke:0.6px #fff;letter-spacing:1.88px">TORUŃ</div>
<div class="abs" style="left:2365.5px;top:2378.6px;width:59.4px;height:59.4px;border-radius:50%;background:#fff"></div>
<div class="t" style="left:2386.4px;top:2395.5px;font-size:32px;color:#14335F;-webkit-text-stroke:0.3px #14335F">5</div>
<svg style="left:1650px;top:2290px" width="180" height="200" viewBox="0 0 180 200">
<path d="M61,15.5 C50,14 40,20 36,27 C28,38 22,55 20,80 C19,98 21,110 25.5,117.5 C26,105 27,95 29,87 L44,78 L71,48 C72,40 68,28 61,15.5 Z" fill="#C9CACC" stroke="#1a1a1a" stroke-width="1.2"/>
<path d="M125,14 C132,16 138,22 142,30 C148,42 152,58 152.5,75 C153,95 151,115 146,130 C144,137 142,141 139.5,143.5 C139,130 136,115 132,100 L120,78 L103.5,45 C106,35 113,22 125,14 Z" fill="#C9CACC" stroke="#1a1a1a" stroke-width="1.2"/>
<path d="M27.3,108.4 C24.3,94.7 23.8,77.4 30.0,58.7 M137.5,133.1 C143.7,114.1 148.0,89.0 143.9,60.7 M29.1,99.8 C27.6,89.4 27.6,74.7 33.9,59.3 M135.5,123.2 C140.4,108.1 144.1,86.1 139.8,61.3 M30.9,91.3 C30.9,84.2 31.4,72.1 37.9,60.0 M133.6,113.3 C137.1,102.2 140.1,83.1 135.6,62.0 M32.8,82.7 C34.2,78.9 35.2,69.4 41.8,60.6 M131.6,103.4 C133.8,96.2 136.2,80.1 131.5,62.6 M34.6,74.1 C37.5,73.6 39.0,66.8 45.8,61.3 M129.6,93.5 C130.5,90.3 132.2,77.2 127.4,63.3 M36.4,65.5 C40.8,68.3 42.8,64.2 49.8,62.0 M127.6,83.6 C127.2,84.4 128.2,74.2 123.2,64.0 M24.4,58.2 q0.8,-4.6 5.4,-3.6 M149.6,58.2 q-0.8,-4.6 -5.4,-3.6 M29.6,52.2 q0.8,-4.6 5.4,-3.6 M144.4,51.8 q-0.8,-4.6 -5.4,-3.6 M34.8,46.2 q0.8,-4.6 5.4,-3.6 M139.2,45.4 q-0.8,-4.6 -5.4,-3.6 M40.0,40.2 q0.8,-4.6 5.4,-3.6 M134.0,39.0 q-0.8,-4.6 -5.4,-3.6 M45.2,34.2 q0.8,-4.6 5.4,-3.6 M128.8,32.6 q-0.8,-4.6 -5.4,-3.6 M50.4,28.2 q0.8,-4.6 5.4,-3.6 M123.6,26.2 q-0.8,-4.6 -5.4,-3.6 M29.6,61.7 q0.8,-4.6 5.4,-3.6 M144.4,61.7 q-0.8,-4.6 -5.4,-3.6 M34.8,56.0 q0.8,-4.6 5.4,-3.6 M139.2,55.6 q-0.8,-4.6 -5.4,-3.6 M40.0,50.3 q0.8,-4.6 5.4,-3.6 M134.0,49.5 q-0.8,-4.6 -5.4,-3.6 M45.2,44.6 q0.8,-4.6 5.4,-3.6 M128.8,43.4 q-0.8,-4.6 -5.4,-3.6 M50.4,38.9 q0.8,-4.6 5.4,-3.6 M123.6,37.3 q-0.8,-4.6 -5.4,-3.6 M55.6,33.2 q0.8,-4.6 5.4,-3.6 M118.4,31.2 q-0.8,-4.6 -5.4,-3.6 M34.8,65.2 q0.8,-4.6 5.4,-3.6 M139.2,65.2 q-0.8,-4.6 -5.4,-3.6 M40.0,59.8 q0.8,-4.6 5.4,-3.6 M134.0,59.4 q-0.8,-4.6 -5.4,-3.6 M45.2,54.4 q0.8,-4.6 5.4,-3.6 M128.8,53.6 q-0.8,-4.6 -5.4,-3.6 M50.4,49.0 q0.8,-4.6 5.4,-3.6 M123.6,47.8 q-0.8,-4.6 -5.4,-3.6 M55.6,43.6 q0.8,-4.6 5.4,-3.6 M118.4,42.0 q-0.8,-4.6 -5.4,-3.6 M60.8,38.2 q0.8,-4.6 5.4,-3.6 M113.2,36.2 q-0.8,-4.6 -5.4,-3.6 M40.0,68.7 q0.8,-4.6 5.4,-3.6 M134.0,68.7 q-0.8,-4.6 -5.4,-3.6 M45.2,63.6 q0.8,-4.6 5.4,-3.6 M128.8,63.2 q-0.8,-4.6 -5.4,-3.6 M50.4,58.5 q0.8,-4.6 5.4,-3.6 M123.6,57.7 q-0.8,-4.6 -5.4,-3.6 M55.6,53.4 q0.8,-4.6 5.4,-3.6 M118.4,52.2 q-0.8,-4.6 -5.4,-3.6 M60.8,48.3 q0.8,-4.6 5.4,-3.6 M113.2,46.7 q-0.8,-4.6 -5.4,-3.6 M66.0,43.2 q0.8,-4.6 5.4,-3.6 M108.0,41.2 q-0.8,-4.6 -5.4,-3.6 M45.2,72.2 q0.8,-4.6 5.4,-3.6 M128.8,72.2 q-0.8,-4.6 -5.4,-3.6 M50.4,67.4 q0.8,-4.6 5.4,-3.6 M123.6,67.0 q-0.8,-4.6 -5.4,-3.6 M55.6,62.6 q0.8,-4.6 5.4,-3.6 M118.4,61.8 q-0.8,-4.6 -5.4,-3.6 M60.8,57.8 q0.8,-4.6 5.4,-3.6 M113.2,56.6 q-0.8,-4.6 -5.4,-3.6 M66.0,53.0 q0.8,-4.6 5.4,-3.6 M108.0,51.4 q-0.8,-4.6 -5.4,-3.6 M71.2,48.2 q0.8,-4.6 5.4,-3.6 M102.8,46.2 q-0.8,-4.6 -5.4,-3.6" stroke="#4a4a4e" stroke-width="0.8" fill="none"/>
<path d="M80.7,48.7 L72.5,50.7 L43.5,76.6 L46.6,83.5 L72,67 L81,87 L107.7,87 L107.7,158 C110,161 114,162 117,160 L126.3,153 C124,146 123,140 123.2,134.6 C125,125 125,118 124.2,111.8 C122,100 119,93 115.9,88 L120.6,66.3 C119,61 116,58 112.8,55.9 L101.4,46.6 C95,50 87,51 80.7,48.7 Z" fill="#2D86D3" stroke="#1a1a1a" stroke-width="1.2"/>
<ellipse cx="88.5" cy="34.5" rx="11.5" ry="12.5" fill="#2b1d18"/>
<path d="M79,40 C76,46 76,50 80,51 L84,46 Z" fill="#2b1d18"/>
<ellipse cx="91.5" cy="34.5" rx="7.6" ry="10.2" fill="#F3C48F" stroke="#1a1a1a" stroke-width="0.6" transform="rotate(8 91.5 34.5)"/>
<path d="M84,43 L83,49.5 C88,51.5 95,51 100,47.5 L96,41 Z" fill="#F3C48F"/>
<path d="M28.8,87.5 H107.7 V150 C107,165 92,178 71.4,182.5 C48,177 30,165 28.8,150 Z" fill="#fff" stroke="#1a1a1a" stroke-width="1.3"/>
<path d="M29.5,133 H107 V150 C106.5,165 92,177.5 71.4,181.8 C48,176.5 30.5,165 29.5,150 Z" fill="#D92B1E"/>
<path d="M35.2,96.3 h3.9 v3 h3.0 v-3 h3.9 v3 h3.0 v-3 h3.9 V108 h-1.8 V134 H37.0 V108 H35.2 Z" fill="#D92B1E" stroke="#7a1510" stroke-width="0.5"/>
<path d="M58.5,96.3 h3.8 v3 h2.9 v-3 h3.8 v3 h2.9 v-3 h3.8 V108 h-1.7 V134 H60.2 V108 H58.5 Z" fill="#D92B1E" stroke="#7a1510" stroke-width="0.5"/>
<path d="M82.3,96.3 h3.9 v3 h3.0 v-3 h3.9 v3 h3.0 v-3 h3.9 V108 h-1.8 V134 H84.1 V108 H82.3 Z" fill="#D92B1E" stroke="#7a1510" stroke-width="0.5"/>
<rect x="42.5" y="113" width="3.4" height="10" fill="#3a1a14"/><rect x="89" y="113" width="3.4" height="10" fill="#3a1a14"/>
<clipPath id="shc"><path d="M29.5,133 H107 V150 C106.5,165 92,177.5 71.4,181.8 C48,176.5 30.5,165 29.5,150 Z"/></clipPath>
<g clip-path="url(#shc)" stroke="#8e1c14" stroke-width="0.5"><line x1="29" y1="137" x2="108" y2="137"/><line x1="29" y1="141" x2="108" y2="141"/><line x1="29" y1="145" x2="108" y2="145"/><line x1="29" y1="149" x2="108" y2="149"/><line x1="29" y1="153" x2="108" y2="153"/><line x1="29" y1="157" x2="108" y2="157"/><line x1="29" y1="161" x2="108" y2="161"/><line x1="29" y1="165" x2="108" y2="165"/><line x1="29" y1="169" x2="108" y2="169"/><line x1="29" y1="173" x2="108" y2="173"/><line x1="29" y1="177" x2="108" y2="177"/><line x1="29" y1="181" x2="108" y2="181"/><line x1="32.5" y1="133" x2="32.5" y2="137"/><line x1="37.5" y1="133" x2="37.5" y2="137"/><line x1="42.5" y1="133" x2="42.5" y2="137"/><line x1="47.5" y1="133" x2="47.5" y2="137"/><line x1="52.5" y1="133" x2="52.5" y2="137"/><line x1="57.5" y1="133" x2="57.5" y2="137"/><line x1="62.5" y1="133" x2="62.5" y2="137"/><line x1="67.5" y1="133" x2="67.5" y2="137"/><line x1="72.5" y1="133" x2="72.5" y2="137"/><line x1="77.5" y1="133" x2="77.5" y2="137"/><line x1="82.5" y1="133" x2="82.5" y2="137"/><line x1="87.5" y1="133" x2="87.5" y2="137"/><line x1="92.5" y1="133" x2="92.5" y2="137"/><line x1="97.5" y1="133" x2="97.5" y2="137"/><line x1="102.5" y1="133" x2="102.5" y2="137"/><line x1="107.5" y1="133" x2="107.5" y2="137"/><line x1="30" y1="137" x2="30" y2="141"/><line x1="35" y1="137" x2="35" y2="141"/><line x1="40" y1="137" x2="40" y2="141"/><line x1="45" y1="137" x2="45" y2="141"/><line x1="50" y1="137" x2="50" y2="141"/><line x1="55" y1="137" x2="55" y2="141"/><line x1="60" y1="137" x2="60" y2="141"/><line x1="65" y1="137" x2="65" y2="141"/><line x1="70" y1="137" x2="70" y2="141"/><line x1="75" y1="137" x2="75" y2="141"/><line x1="80" y1="137" x2="80" y2="141"/><line x1="85" y1="137" x2="85" y2="141"/><line x1="90" y1="137" x2="90" y2="141"/><line x1="95" y1="137" x2="95" y2="141"/><line x1="100" y1="137" x2="100" y2="141"/><line x1="105" y1="137" x2="105" y2="141"/><line x1="32.5" y1="141" x2="32.5" y2="145"/><line x1="37.5" y1="141" x2="37.5" y2="145"/><line x1="42.5" y1="141" x2="42.5" y2="145"/><line x1="47.5" y1="141" x2="47.5" y2="145"/><line x1="52.5" y1="141" x2="52.5" y2="145"/><line x1="57.5" y1="141" x2="57.5" y2="145"/><line x1="62.5" y1="141" x2="62.5" y2="145"/><line x1="67.5" y1="141" x2="67.5" y2="145"/><line x1="72.5" y1="141" x2="72.5" y2="145"/><line x1="77.5" y1="141" x2="77.5" y2="145"/><line x1="82.5" y1="141" x2="82.5" y2="145"/><line x1="87.5" y1="141" x2="87.5" y2="145"/><line x1="92.5" y1="141" x2="92.5" y2="145"/><line x1="97.5" y1="141" x2="97.5" y2="145"/><line x1="102.5" y1="141" x2="102.5" y2="145"/><line x1="107.5" y1="141" x2="107.5" y2="145"/><line x1="30" y1="145" x2="30" y2="149"/><line x1="35" y1="145" x2="35" y2="149"/><line x1="40" y1="145" x2="40" y2="149"/><line x1="45" y1="145" x2="45" y2="149"/><line x1="50" y1="145" x2="50" y2="149"/><line x1="55" y1="145" x2="55" y2="149"/><line x1="60" y1="145" x2="60" y2="149"/><line x1="65" y1="145" x2="65" y2="149"/><line x1="70" y1="145" x2="70" y2="149"/><line x1="75" y1="145" x2="75" y2="149"/><line x1="80" y1="145" x2="80" y2="149"/><line x1="85" y1="145" x2="85" y2="149"/><line x1="90" y1="145" x2="90" y2="149"/><line x1="95" y1="145" x2="95" y2="149"/><line x1="100" y1="145" x2="100" y2="149"/><line x1="105" y1="145" x2="105" y2="149"/><line x1="32.5" y1="149" x2="32.5" y2="153"/><line x1="37.5" y1="149" x2="37.5" y2="153"/><line x1="42.5" y1="149" x2="42.5" y2="153"/><line x1="47.5" y1="149" x2="47.5" y2="153"/><line x1="52.5" y1="149" x2="52.5" y2="153"/><line x1="57.5" y1="149" x2="57.5" y2="153"/><line x1="62.5" y1="149" x2="62.5" y2="153"/><line x1="67.5" y1="149" x2="67.5" y2="153"/><line x1="72.5" y1="149" x2="72.5" y2="153"/><line x1="77.5" y1="149" x2="77.5" y2="153"/><line x1="82.5" y1="149" x2="82.5" y2="153"/><line x1="87.5" y1="149" x2="87.5" y2="153"/><line x1="92.5" y1="149" x2="92.5" y2="153"/><line x1="97.5" y1="149" x2="97.5" y2="153"/><line x1="102.5" y1="149" x2="102.5" y2="153"/><line x1="107.5" y1="149" x2="107.5" y2="153"/><line x1="30" y1="153" x2="30" y2="157"/><line x1="35" y1="153" x2="35" y2="157"/><line x1="40" y1="153" x2="40" y2="157"/><line x1="45" y1="153" x2="45" y2="157"/><line x1="50" y1="153" x2="50" y2="157"/><line x1="55" y1="153" x2="55" y2="157"/><line x1="60" y1="153" x2="60" y2="157"/><line x1="65" y1="153" x2="65" y2="157"/><line x1="70" y1="153" x2="70" y2="157"/><line x1="75" y1="153" x2="75" y2="157"/><line x1="80" y1="153" x2="80" y2="157"/><line x1="85" y1="153" x2="85" y2="157"/><line x1="90" y1="153" x2="90" y2="157"/><line x1="95" y1="153" x2="95" y2="157"/><line x1="100" y1="153" x2="100" y2="157"/><line x1="105" y1="153" x2="105" y2="157"/><line x1="32.5" y1="157" x2="32.5" y2="161"/><line x1="37.5" y1="157" x2="37.5" y2="161"/><line x1="42.5" y1="157" x2="42.5" y2="161"/><line x1="47.5" y1="157" x2="47.5" y2="161"/><line x1="52.5" y1="157" x2="52.5" y2="161"/><line x1="57.5" y1="157" x2="57.5" y2="161"/><line x1="62.5" y1="157" x2="62.5" y2="161"/><line x1="67.5" y1="157" x2="67.5" y2="161"/><line x1="72.5" y1="157" x2="72.5" y2="161"/><line x1="77.5" y1="157" x2="77.5" y2="161"/><line x1="82.5" y1="157" x2="82.5" y2="161"/><line x1="87.5" y1="157" x2="87.5" y2="161"/><line x1="92.5" y1="157" x2="92.5" y2="161"/><line x1="97.5" y1="157" x2="97.5" y2="161"/><line x1="102.5" y1="157" x2="102.5" y2="161"/><line x1="107.5" y1="157" x2="107.5" y2="161"/><line x1="30" y1="161" x2="30" y2="165"/><line x1="35" y1="161" x2="35" y2="165"/><line x1="40" y1="161" x2="40" y2="165"/><line x1="45" y1="161" x2="45" y2="165"/><line x1="50" y1="161" x2="50" y2="165"/><line x1="55" y1="161" x2="55" y2="165"/><line x1="60" y1="161" x2="60" y2="165"/><line x1="65" y1="161" x2="65" y2="165"/><line x1="70" y1="161" x2="70" y2="165"/><line x1="75" y1="161" x2="75" y2="165"/><line x1="80" y1="161" x2="80" y2="165"/><line x1="85" y1="161" x2="85" y2="165"/><line x1="90" y1="161" x2="90" y2="165"/><line x1="95" y1="161" x2="95" y2="165"/><line x1="100" y1="161" x2="100" y2="165"/><line x1="105" y1="161" x2="105" y2="165"/><line x1="32.5" y1="165" x2="32.5" y2="169"/><line x1="37.5" y1="165" x2="37.5" y2="169"/><line x1="42.5" y1="165" x2="42.5" y2="169"/><line x1="47.5" y1="165" x2="47.5" y2="169"/><line x1="52.5" y1="165" x2="52.5" y2="169"/><line x1="57.5" y1="165" x2="57.5" y2="169"/><line x1="62.5" y1="165" x2="62.5" y2="169"/><line x1="67.5" y1="165" x2="67.5" y2="169"/><line x1="72.5" y1="165" x2="72.5" y2="169"/><line x1="77.5" y1="165" x2="77.5" y2="169"/><line x1="82.5" y1="165" x2="82.5" y2="169"/><line x1="87.5" y1="165" x2="87.5" y2="169"/><line x1="92.5" y1="165" x2="92.5" y2="169"/><line x1="97.5" y1="165" x2="97.5" y2="169"/><line x1="102.5" y1="165" x2="102.5" y2="169"/><line x1="107.5" y1="165" x2="107.5" y2="169"/><line x1="30" y1="169" x2="30" y2="173"/><line x1="35" y1="169" x2="35" y2="173"/><line x1="40" y1="169" x2="40" y2="173"/><line x1="45" y1="169" x2="45" y2="173"/><line x1="50" y1="169" x2="50" y2="173"/><line x1="55" y1="169" x2="55" y2="173"/><line x1="60" y1="169" x2="60" y2="173"/><line x1="65" y1="169" x2="65" y2="173"/><line x1="70" y1="169" x2="70" y2="173"/><line x1="75" y1="169" x2="75" y2="173"/><line x1="80" y1="169" x2="80" y2="173"/><line x1="85" y1="169" x2="85" y2="173"/><line x1="90" y1="169" x2="90" y2="173"/><line x1="95" y1="169" x2="95" y2="173"/><line x1="100" y1="169" x2="100" y2="173"/><line x1="105" y1="169" x2="105" y2="173"/><line x1="32.5" y1="173" x2="32.5" y2="177"/><line x1="37.5" y1="173" x2="37.5" y2="177"/><line x1="42.5" y1="173" x2="42.5" y2="177"/><line x1="47.5" y1="173" x2="47.5" y2="177"/><line x1="52.5" y1="173" x2="52.5" y2="177"/><line x1="57.5" y1="173" x2="57.5" y2="177"/><line x1="62.5" y1="173" x2="62.5" y2="177"/><line x1="67.5" y1="173" x2="67.5" y2="177"/><line x1="72.5" y1="173" x2="72.5" y2="177"/><line x1="77.5" y1="173" x2="77.5" y2="177"/><line x1="82.5" y1="173" x2="82.5" y2="177"/><line x1="87.5" y1="173" x2="87.5" y2="177"/><line x1="92.5" y1="173" x2="92.5" y2="177"/><line x1="97.5" y1="173" x2="97.5" y2="177"/><line x1="102.5" y1="173" x2="102.5" y2="177"/><line x1="107.5" y1="173" x2="107.5" y2="177"/><line x1="30" y1="177" x2="30" y2="181"/><line x1="35" y1="177" x2="35" y2="181"/><line x1="40" y1="177" x2="40" y2="181"/><line x1="45" y1="177" x2="45" y2="181"/><line x1="50" y1="177" x2="50" y2="181"/><line x1="55" y1="177" x2="55" y2="181"/><line x1="60" y1="177" x2="60" y2="181"/><line x1="65" y1="177" x2="65" y2="181"/><line x1="70" y1="177" x2="70" y2="181"/><line x1="75" y1="177" x2="75" y2="181"/><line x1="80" y1="177" x2="80" y2="181"/><line x1="85" y1="177" x2="85" y2="181"/><line x1="90" y1="177" x2="90" y2="181"/><line x1="95" y1="177" x2="95" y2="181"/><line x1="100" y1="177" x2="100" y2="181"/><line x1="105" y1="177" x2="105" y2="181"/><line x1="32.5" y1="181" x2="32.5" y2="185"/><line x1="37.5" y1="181" x2="37.5" y2="185"/><line x1="42.5" y1="181" x2="42.5" y2="185"/><line x1="47.5" y1="181" x2="47.5" y2="185"/><line x1="52.5" y1="181" x2="52.5" y2="185"/><line x1="57.5" y1="181" x2="57.5" y2="185"/><line x1="62.5" y1="181" x2="62.5" y2="185"/><line x1="67.5" y1="181" x2="67.5" y2="185"/><line x1="72.5" y1="181" x2="72.5" y2="185"/><line x1="77.5" y1="181" x2="77.5" y2="185"/><line x1="82.5" y1="181" x2="82.5" y2="185"/><line x1="87.5" y1="181" x2="87.5" y2="185"/><line x1="92.5" y1="181" x2="92.5" y2="185"/><line x1="97.5" y1="181" x2="97.5" y2="185"/><line x1="102.5" y1="181" x2="102.5" y2="185"/><line x1="107.5" y1="181" x2="107.5" y2="185"/></g>
<rect x="67.3" y="147" width="11.4" height="31.5" fill="#1d1a22"/>
<path d="M54.3,153.2 C58,149 62,146.5 67.3,145 V178.5 L54.3,175 Z" fill="#F6E82C" stroke="#1a1a1a" stroke-width="0.7"/>
<path d="M78.7,145 C84,146.5 87,149 90,153.2 V175 L78.7,178.5 Z" fill="#F6E82C" stroke="#1a1a1a" stroke-width="0.7"/>
<g stroke="#e8e8e8" stroke-width="1.3"><line x1="55" y1="160.5" x2="63" y2="160.5"/><line x1="55" y1="170.5" x2="63" y2="170.5"/><line x1="79" y1="160.5" x2="87" y2="160.5"/><line x1="79" y1="170.5" x2="87" y2="170.5"/><line x1="68.5" y1="153" x2="77.5" y2="153"/><line x1="68.5" y1="157" x2="77.5" y2="157"/><line x1="70" y1="148" x2="70" y2="160"/><line x1="73" y1="148" x2="73" y2="160"/><line x1="76" y1="148" x2="76" y2="160"/></g>
<path d="M22,78 L27.5,71.5 L31,74 L29,77 L41,86 L49,92 L46,96 L38,89 L27,83 L24,82 Z" fill="#F2DE2A" stroke="#1a1a1a" stroke-width="0.7"/>
<ellipse cx="40.5" cy="86.5" rx="6.3" ry="6" fill="#F3C48F" stroke="#1a1a1a" stroke-width="0.7"/>
<ellipse cx="108" cy="90.5" rx="4.6" ry="6.8" fill="#F3C48F" stroke="#1a1a1a" stroke-width="0.7"/>
<path d="M122.5,126 C126,125 128,128 129,134 C130.5,140 130.5,145 128.5,147 C126,143 125.5,135 122.5,126 Z" fill="#F2E21E" stroke="#1a1a1a" stroke-width="0.6"/>
</svg>
</body></html>
